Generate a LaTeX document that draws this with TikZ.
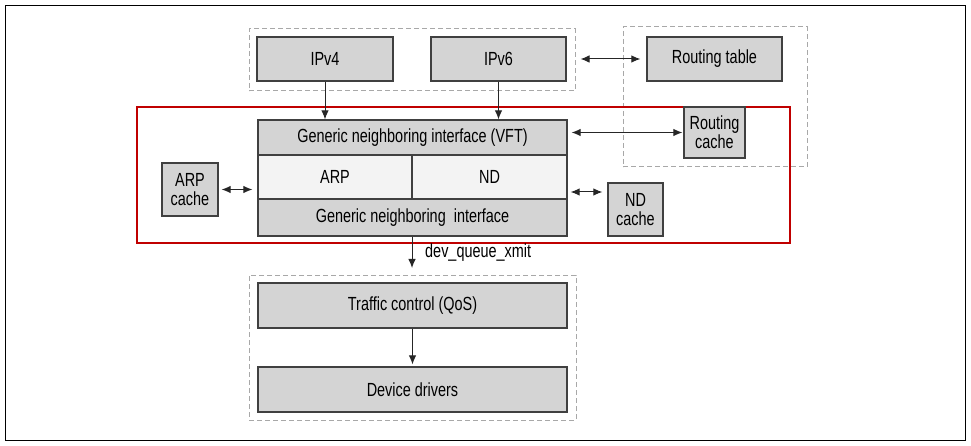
\documentclass[tikz,border=0pt]{standalone}
\usepackage{fontspec}
\setmainfont{Liberation Sans}[FakeStretch=0.76]
\usetikzlibrary{arrows.meta}
\definecolor{boxfill}{HTML}{D4D4D4}
\definecolor{lightfill}{HTML}{F3F3F3}
\definecolor{boxline}{HTML}{404040}
\definecolor{dashgray}{HTML}{A8A8A8}
\definecolor{redline}{HTML}{C00000}
\begin{document}
\begin{tikzpicture}[x=1pt,y=-1pt,
  box/.style={draw=boxline,line width=1.3pt,fill=boxfill,inner sep=0pt,font=\fontsize{19}{21}\selectfont,align=center},
  light/.style={box,fill=lightfill},
  grp/.style={draw=dashgray,dashed,line width=1pt,dash pattern=on 5pt off 3pt,inner sep=0pt},
  arr/.style={-{Latex[length=9pt,width=7.5pt]},line width=1pt,draw=black!85},
  darr/.style={{Latex[length=9pt,width=7.5pt]}-{Latex[length=9pt,width=7.5pt]},line width=1pt,draw=black!85}]
\useasboundingbox (0,0) rectangle (971,446);
\draw[line width=1pt] (5,6) rectangle (965,440);
% groups
\node[grp,minimum width=326pt,minimum height=62pt] (topgrp) at (412,60) {};
\node[grp,minimum width=184pt,minimum height=140pt] (rtgrp) at (715,97) {};
\node[grp,minimum width=327pt,minimum height=145pt] (botgrp) at (412.5,347.5) {};
\node[draw=redline,line width=1.4pt,inner sep=0pt,minimum width=653pt,minimum height=136pt] (red) at (463.5,175) {};
% boxes
\node[box,minimum width=136pt,minimum height=44pt] (ipv4) at (325,59) {IPv4};
\node[box,minimum width=135pt,minimum height=44pt] (ipv6) at (498.5,59) {IPv6};
\node[box,minimum width=135pt,minimum height=44pt] (rt) at (714.5,59) {Routing table};
\node[box,minimum width=61pt,minimum height=51pt] (rc) at (714.5,132.5) {Routing\\[-2pt]cache};
\node[box,minimum width=309pt,minimum height=35pt] (vft) at (412.5,137.5) {Generic neighboring interface (VFT)};
\node[light,minimum width=154pt,minimum height=44pt] (arp) at (335,177) {ARP};
\node[light,minimum width=155pt,minimum height=44pt] (nd) at (489.5,177) {ND};
\node[box,minimum width=309pt,minimum height=37pt] (gen) at (412.5,217.5) {Generic neighboring~ interface};
\node[box,minimum width=56pt,minimum height=53pt] (arpc) at (190,189.5) {ARP\\[-2pt]cache};
\node[box,minimum width=55pt,minimum height=53pt] (ndc) at (635.5,209.5) {ND\\[-2pt]cache};
\node[box,minimum width=309pt,minimum height=45pt] (tc) at (412.5,305.5) {Traffic control (QoS)};
\node[box,minimum width=309pt,minimum height=45pt] (dd) at (412.5,389.5) {Device drivers};
\node[anchor=west,inner sep=0pt,font=\fontsize{19}{21}\selectfont] (dq) at (425,253) {dev\_queue\_xmit};
\coordinate (dqend) at (412,268);
% connectors
\draw[arr] (ipv4.south) -- (ipv4.south |- vft.north);
\draw[arr] (ipv6.south) -- (ipv6.south |- vft.north);
\draw[darr] ([xshift=5pt]topgrp.east |- rt.west) -- ([xshift=-6pt]rt.west);
\draw[darr] ([xshift=4pt]vft.east |- rc.west) -- ([xshift=-1pt]rc.west);
\draw[darr] ([xshift=3pt,yshift=-15pt]nd.east) -- ([xshift=-5pt,yshift=-15pt]nd.east -| ndc.west);
\draw[darr] ([xshift=3pt]arpc.east) -- ([xshift=-5pt]arpc.east -| arp.west);
\draw[arr] (gen.south -| dqend) -- (dqend);
\draw[arr] (tc.south) -- ([yshift=2pt]dd.north);
\end{tikzpicture}
\end{document}
